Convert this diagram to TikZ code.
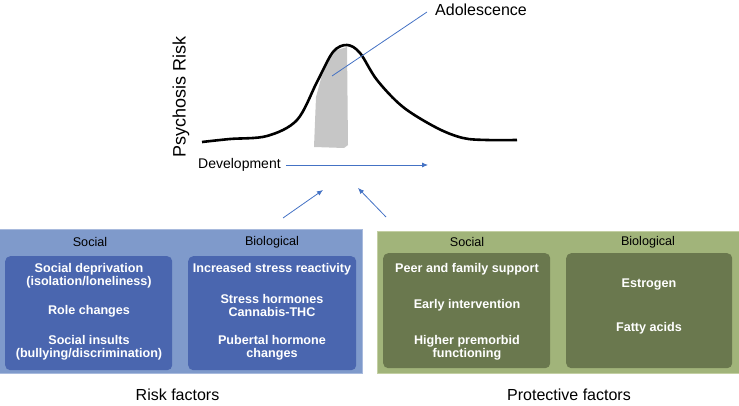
\documentclass[tikz,border=0pt]{standalone}
\usepackage{fontspec}
\setmainfont{Liberation Sans}
\usetikzlibrary{arrows.meta,positioning}

\definecolor{riskpanel}{HTML}{7F9ACB}
\definecolor{riskedge}{HTML}{A8BADD}
\definecolor{riskbox}{HTML}{4A66AF}
\definecolor{protpanel}{HTML}{A1B47A}
\definecolor{protedge}{HTML}{C3CFA3}
\definecolor{protbox}{HTML}{6A784E}
\definecolor{linkblue}{HTML}{4472C4}

\begin{document}
\begin{tikzpicture}[
  x=1pt,y=-1pt,
  panel/.style={draw,line width=1pt,anchor=north west,inner sep=0pt},
  itembox/.style={rounded corners=5pt,anchor=north west,inner sep=0pt},
  item/.style={text=white,font=\fontsize{12.6}{13.4}\selectfont\bfseries,align=center},
  head/.style={font=\fontsize{12.6}{14}\selectfont},
  caption/.style={font=\fontsize{16}{18}\selectfont},
  link/.style={linkblue,line width=0.8pt,-{Latex[length=6pt,width=5pt]}}
]
  \useasboundingbox (0,0) rectangle (739,406);

  % curve and adolescence band
  \fill[gray!45] (314,147) -- (316,97) -- (322,75) -- (330,58) -- (337,50)
    -- (347,47) -- (348,145) -- (344,148) -- cycle;
  \draw[line width=2.6pt,line join=round] plot[smooth,tension=0.55] coordinates {
    (202,142) (230,139) (267,136) (297,120) (317,82) (333,52) (347,45)
    (360,53) (377,80) (403,107) (437,128) (463,138) (487,140) (517,140)};

  \node[font=\fontsize{18}{20}\selectfont,rotate=90] (risk) at (181,97) {Psychosis Risk};
  \node[font=\fontsize{16}{18}\selectfont] (adol) at (481,10) {Adolescence};
  \coordinate (band) at (332,76);
  \coordinate (adolend) at (427,12);
  \draw[linkblue,line width=0.8pt] (adolend) -- (band);

  \node[font=\fontsize{14}{16}\selectfont,anchor=west,inner sep=0pt] (dev) at (198,165) {Development};
  \coordinate (devend) at (428,165);
  \draw[link] (dev.east) ++(5,0) -- (devend);

  % factor panels
  \node[panel,fill=riskpanel,draw=riskedge,minimum width=363,minimum height=144] (riskp) at (-1,229) {};
  \node[panel,fill=protpanel,draw=protedge,minimum width=364,minimum height=142] (protp) at (377,231) {};

  \coordinate (rstart) at (283,218);
  \coordinate (pstart) at (386,217);
  \draw[link] (rstart) -- (323,190);
  \draw[link] (pstart) -- (358,188);

  \node[head] (rsochead) at (90,242) {Social};
  \node[head] (rbiohead) at (272,242) {Biological};
  \node[head] (psochead) at (467,242) {Social};
  \node[head] (pbiohead) at (648,242) {Biological};

  \node[itembox,fill=riskbox,minimum width=167,minimum height=114] (rsoc) at (5,256) {};
  \node[itembox,fill=riskbox,minimum width=168,minimum height=114] (rbio) at (188,256) {};
  \node[itembox,fill=protbox,minimum width=167,minimum height=115] (psoc) at (383,253) {};
  \node[itembox,fill=protbox,minimum width=166,minimum height=115] (pbio) at (566,253) {};

  \node[item] (dep) at (89,275.5) {Social deprivation\\(isolation/loneliness)};
  \node[item] (role) at (89,311) {Role changes};
  \node[item] (insult) at (89,347.5) {Social insults\\(bullying/discrimination)};

  \node[item] (stress) at (272,269) {Increased stress reactivity};
  \node[item] (horm) at (272,305.5) {Stress hormones\\Cannabis-THC};
  \node[item] (puber) at (272,347.5) {Pubertal hormone\\changes};

  \node[item] (peer) at (467,269) {Peer and family support};
  \node[item] (early) at (467,305) {Early intervention};
  \node[item] (premorb) at (467,347.5) {Higher premorbid\\functioning};

  \node[item] (estro) at (649,285) {Estrogen};
  \node[item] (fatty) at (649,328) {Fatty acids};

  \node[caption] (riskcap) at (177.5,395) {Risk factors};
  \node[caption] (protcap) at (569,395) {Protective factors};
\end{tikzpicture}
\end{document}
